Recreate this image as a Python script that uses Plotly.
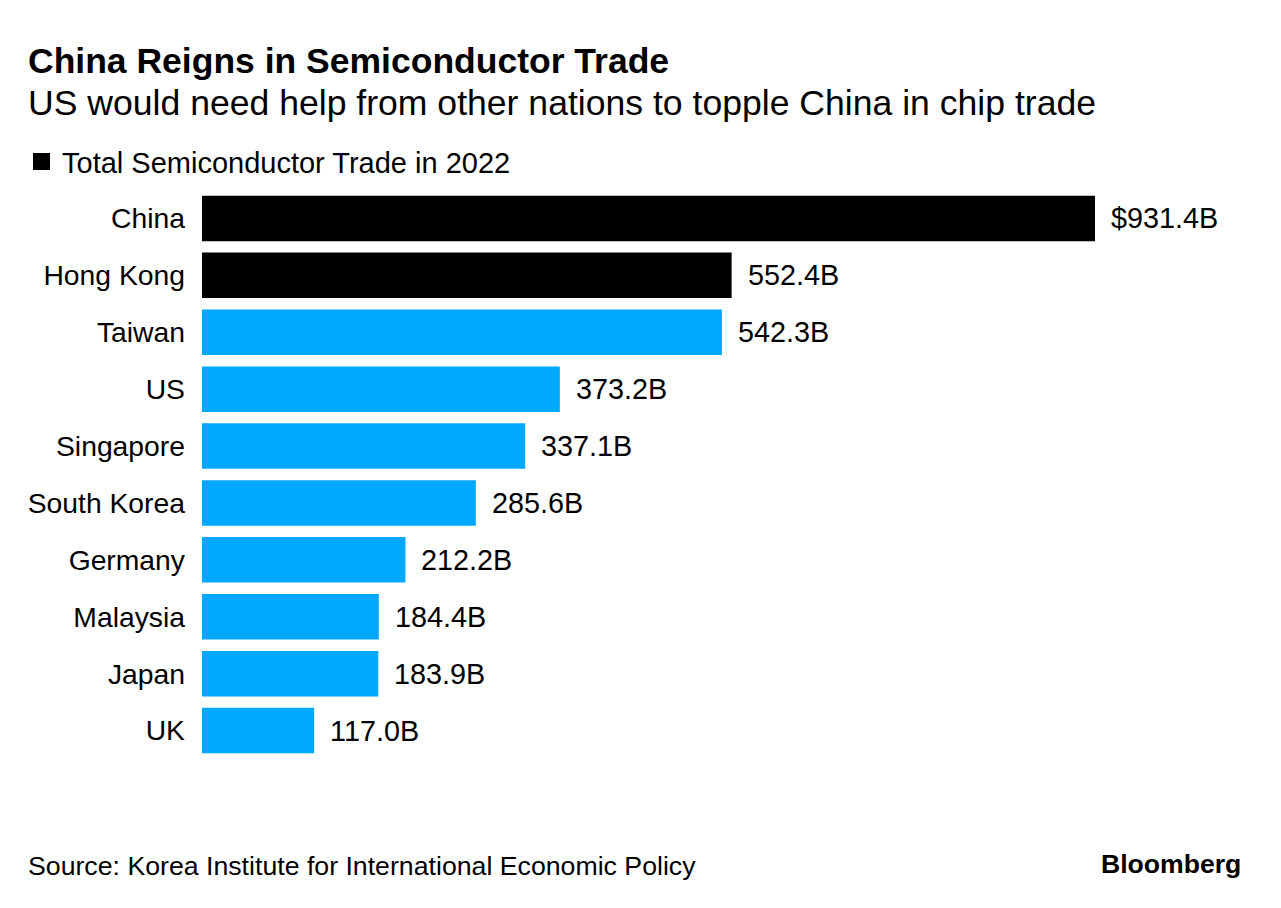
import plotly.graph_objects as go

categories = ["China", "Hong Kong", "Taiwan", "US", "Singapore", "South Korea",
              "Germany", "Malaysia", "Japan", "UK"]
values = [931.4, 552.4, 542.3, 373.2, 337.1, 285.6, 212.2, 184.4, 183.9, 117.0]
value_labels = ["$931.4B", "552.4B", "542.3B", "373.2B", "337.1B", "285.6B",
                "212.2B", "184.4B", "183.9B", "117.0B"]
highlighted = ["China", "Hong Kong"]

title = "China Reigns in Semiconductor Trade"
subtitle = "US would need help from other nations to topple China in chip trade"
legend_label = "Total Semiconductor Trade in 2022"
source = "Source: Korea Institute for International Economic Policy"

BLACK = "#000000"
BLUE = "#00A9FF"
FONT = "Liberation Sans, Arial, sans-serif"

W, H = 1281, 908
ML, MR, MT, MB = 202, 30, 190, 149
PW, PH = W - ML - MR, H - MT - MB


def px(x):
    return (x - ML) / PW


def py(y):
    return (H - MB - y) / PH


colors = [BLACK if c in highlighted else BLUE for c in categories]

fig = go.Figure()
fig.add_trace(go.Bar(
    x=values, y=categories, orientation="h",
    marker=dict(color=colors, line=dict(width=0)),
    width=0.8, showlegend=False, hoverinfo="skip",
))

annotations = []
for c, v, t in zip(categories, values, value_labels):
    annotations.append(dict(
        x=v, y=c, xref="x", yref="y", text=t, showarrow=False,
        xanchor="left", yanchor="middle", xshift=14,
        font=dict(family=FONT, size=28.8, color="#000000"),
    ))

annotations += [
    dict(x=px(26), y=py(61), xref="paper", yref="paper", text="<b>" + title + "</b>",
         showarrow=False, xanchor="left", yanchor="middle",
         font=dict(family=FONT, size=35.5, color="#000000")),
    dict(x=px(26), y=py(103), xref="paper", yref="paper", text=subtitle,
         showarrow=False, xanchor="left", yanchor="middle",
         font=dict(family=FONT, size=35.6, color="#000000")),
    dict(x=px(60), y=py(163), xref="paper", yref="paper", text=legend_label,
         showarrow=False, xanchor="left", yanchor="middle",
         font=dict(family=FONT, size=29, color="#000000")),
    dict(x=px(26), y=py(866), xref="paper", yref="paper", text=source,
         showarrow=False, xanchor="left", yanchor="middle",
         font=dict(family=FONT, size=26.7, color="#000000")),
    dict(x=px(1243), y=py(864), xref="paper", yref="paper", text="<b>Bloomberg</b>",
         showarrow=False, xanchor="right", yanchor="middle",
         font=dict(family=FONT, size=26.6, color="#000000")),
]

shapes = [dict(type="rect", xref="paper", yref="paper",
               x0=px(33), x1=px(50), y0=py(170), y1=py(153),
               fillcolor=BLACK, line=dict(width=0))]

fig.update_layout(
    width=W, height=H,
    margin=dict(l=ML, r=MR, t=MT, b=MB, pad=0),
    paper_bgcolor="white", plot_bgcolor="white",
    xaxis=dict(range=[0, PW / (893 / 931.4)], visible=False, fixedrange=True),
    yaxis=dict(autorange="reversed", showgrid=False, zeroline=False, showline=False,
               ticks="", ticklabelstandoff=16,
               tickfont=dict(family=FONT, size=28.3, color="#000000")),
    annotations=annotations, shapes=shapes,
    bargap=0.2,
)

fig.write_html("out.html")
